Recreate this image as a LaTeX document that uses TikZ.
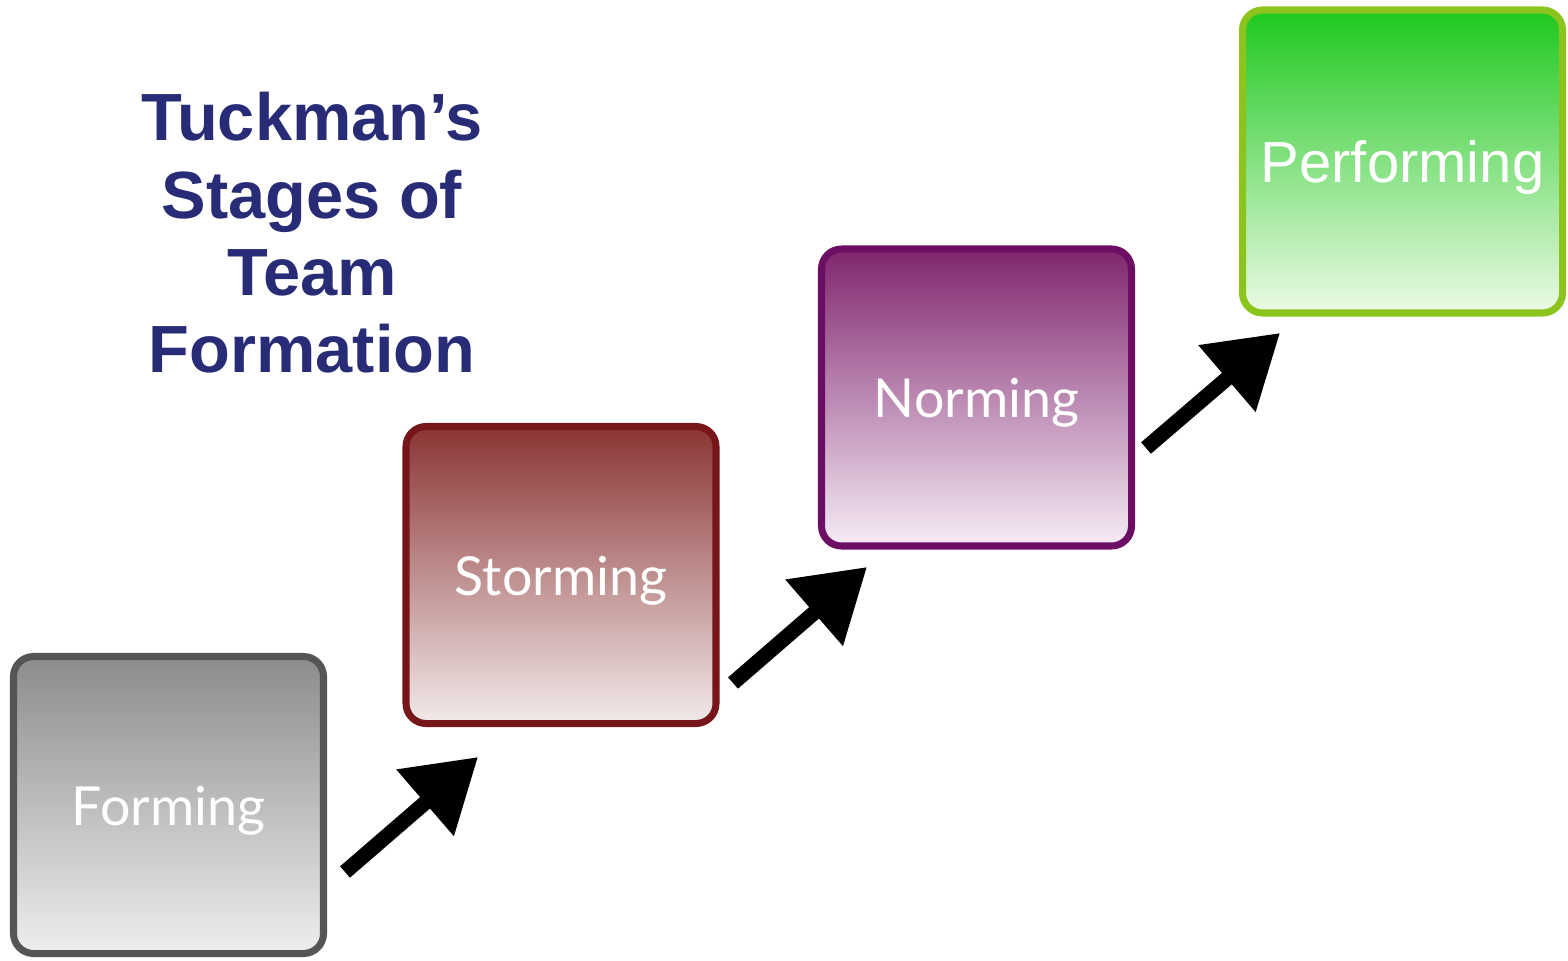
\documentclass[tikz,border=0pt]{standalone}
\usepackage{fontspec}
\setmainfont{Liberation Sans}
\newfontfamily\gillfont{Lato}
\usetikzlibrary{arrows.meta}

\definecolor{titleblue}{RGB}{40,44,118}
\definecolor{formtop}{RGB}{140,140,140}
\definecolor{formbot}{RGB}{238,238,238}
\definecolor{formline}{RGB}{85,85,85}
\definecolor{stormtop}{RGB}{138,52,52}
\definecolor{stormbot}{RGB}{243,234,234}
\definecolor{stormline}{RGB}{118,22,26}
\definecolor{normtop}{RGB}{128,38,110}
\definecolor{normbot}{RGB}{246,236,246}
\definecolor{normline}{RGB}{108,14,100}
\definecolor{perftop}{RGB}{30,200,30}
\definecolor{perfbot}{RGB}{236,250,230}
\definecolor{perfline}{RGB}{140,196,30}

\tikzset{
  stage/.style={rounded corners=0.2cm, line width=2pt, inner sep=0pt,
    minimum width=3.1cm, minimum height=2.97cm, text=white,
    text height=0.5cm, text depth=0.1cm},
  stagefont/.style={font=\gillfont\fontsize{15.3}{18}\selectfont},
  stagearrow/.style={line width=0.15cm, -{Triangle[length=0.7cm,width=0.84cm]}},
}

\begin{document}
\begin{tikzpicture}
\useasboundingbox (0,0) rectangle (15.68,9.6);

\node[titleblue, font=\bfseries\fontsize{19}{22}\selectfont, align=center] (title) at (3.12,7.27) {Tuckman’s\\Stages of\\Team\\Formation};

% the four stages
\node[stage, stagefont, draw=formline, top color=formtop, bottom color=formbot] (forming) at (1.685,1.55) {Forming};
\node[stage, stagefont, draw=stormline, top color=stormtop, bottom color=stormbot] (storming) at (5.61,3.85) {Storming};
\node[stage, stagefont, draw=normline, top color=normtop, bottom color=normbot] (norming) at (9.765,5.625) {Norming};
\node[stage, draw=perfline, top color=perftop, bottom color=perfbot, minimum width=3.2cm, minimum height=3.03cm, text height=0.52cm, font=\fontsize{16.5}{20}\selectfont] (performing) at (14.025,7.985) {Performing};

% arrows between stages
\coordinate (s1) at (3.45,0.88);
\coordinate (e1) at (4.78,2.03);
\coordinate (s2) at (7.33,2.77);
\coordinate (e2) at (8.67,3.93);
\coordinate (s3) at (11.46,5.12);
\coordinate (e3) at (12.80,6.27);
\draw[stagearrow] (s1) -- (e1);
\draw[stagearrow] (s2) -- (e2);
\draw[stagearrow] (s3) -- (e3);
\end{tikzpicture}
\end{document}
